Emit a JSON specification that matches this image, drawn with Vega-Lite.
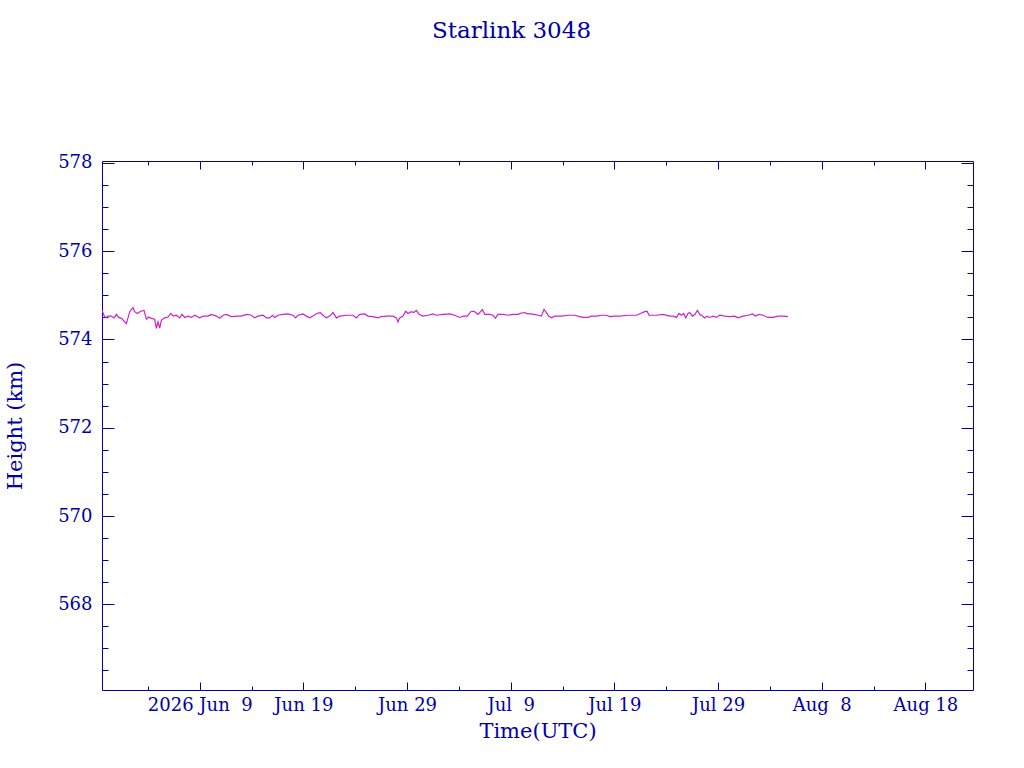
{
  "$schema": "https://vega.github.io/schema/vega-lite/v6.json",
  "width": 871,
  "height": 529,
  "autosize": {"type": "none"},
  "padding": {"left": 102, "top": 161, "right": 51, "bottom": 78},
  "background": "white",
  "title": {"text": "Starlink 3048", "dx": -26, "offset": 93, "baseline": "alphabetic"},
  "data": {
    "values": [
      {"t": "2026-05-30T13:50Z", "h": 574.66},
      {"t": "2026-05-30T18:27Z", "h": 574.55},
      {"t": "2026-05-30T22:23Z", "h": 574.49},
      {"t": "2026-05-31T03:43Z", "h": 574.53},
      {"t": "2026-05-31T11:35Z", "h": 574.53},
      {"t": "2026-05-31T17:36Z", "h": 574.49},
      {"t": "2026-05-31T23:10Z", "h": 574.57},
      {"t": "2026-06-01T04:29Z", "h": 574.50},
      {"t": "2026-06-01T10:44Z", "h": 574.48},
      {"t": "2026-06-01T22:18Z", "h": 574.36},
      {"t": "2026-06-02T05:57Z", "h": 574.63},
      {"t": "2026-06-02T13:35Z", "h": 574.72},
      {"t": "2026-06-02T17:31Z", "h": 574.63},
      {"t": "2026-06-02T23:46Z", "h": 574.59},
      {"t": "2026-06-03T07:25Z", "h": 574.64},
      {"t": "2026-06-03T15:03Z", "h": 574.66},
      {"t": "2026-06-03T20:37Z", "h": 574.46},
      {"t": "2026-06-04T01:56Z", "h": 574.51},
      {"t": "2026-06-04T08:11Z", "h": 574.48},
      {"t": "2026-06-04T15:49Z", "h": 574.46},
      {"t": "2026-06-04T19:45Z", "h": 574.25},
      {"t": "2026-06-04T23:28Z", "h": 574.40},
      {"t": "2026-06-05T03:24Z", "h": 574.26},
      {"t": "2026-06-05T07:21Z", "h": 574.44},
      {"t": "2026-06-05T14:58Z", "h": 574.49},
      {"t": "2026-06-05T22:36Z", "h": 574.51},
      {"t": "2026-06-06T04:52Z", "h": 574.59},
      {"t": "2026-06-06T11:07Z", "h": 574.53},
      {"t": "2026-06-06T18:03Z", "h": 574.55},
      {"t": "2026-06-07T01:42Z", "h": 574.49},
      {"t": "2026-06-07T07:02Z", "h": 574.57},
      {"t": "2026-06-07T13:16Z", "h": 574.50},
      {"t": "2026-06-07T20:54Z", "h": 574.53},
      {"t": "2026-06-08T04:47Z", "h": 574.50},
      {"t": "2026-06-08T12:26Z", "h": 574.55},
      {"t": "2026-06-09T00:00Z", "h": 574.49},
      {"t": "2026-06-09T07:38Z", "h": 574.53},
      {"t": "2026-06-09T19:13Z", "h": 574.53},
      {"t": "2026-06-10T03:05Z", "h": 574.57},
      {"t": "2026-06-10T14:40Z", "h": 574.53},
      {"t": "2026-06-10T22:18Z", "h": 574.48},
      {"t": "2026-06-11T05:57Z", "h": 574.55},
      {"t": "2026-06-11T13:49Z", "h": 574.57},
      {"t": "2026-06-12T01:24Z", "h": 574.52},
      {"t": "2026-06-12T12:58Z", "h": 574.53},
      {"t": "2026-06-13T00:32Z", "h": 574.53},
      {"t": "2026-06-13T12:07Z", "h": 574.57},
      {"t": "2026-06-13T23:41Z", "h": 574.55},
      {"t": "2026-06-14T07:19Z", "h": 574.49},
      {"t": "2026-06-14T14:58Z", "h": 574.53},
      {"t": "2026-06-15T02:33Z", "h": 574.55},
      {"t": "2026-06-15T10:25Z", "h": 574.49},
      {"t": "2026-06-15T18:03Z", "h": 574.49},
      {"t": "2026-06-16T00:19Z", "h": 574.55},
      {"t": "2026-06-16T05:38Z", "h": 574.50},
      {"t": "2026-06-16T13:16Z", "h": 574.55},
      {"t": "2026-06-17T00:50Z", "h": 574.57},
      {"t": "2026-06-17T12:25Z", "h": 574.58},
      {"t": "2026-06-18T00:00Z", "h": 574.55},
      {"t": "2026-06-18T06:14Z", "h": 574.49},
      {"t": "2026-06-18T11:34Z", "h": 574.55},
      {"t": "2026-06-18T23:08Z", "h": 574.58},
      {"t": "2026-06-19T07:00Z", "h": 574.53},
      {"t": "2026-06-19T14:39Z", "h": 574.49},
      {"t": "2026-06-19T22:18Z", "h": 574.53},
      {"t": "2026-06-20T06:10Z", "h": 574.59},
      {"t": "2026-06-20T15:26Z", "h": 574.61},
      {"t": "2026-06-20T21:27Z", "h": 574.55},
      {"t": "2026-06-21T05:20Z", "h": 574.49},
      {"t": "2026-06-21T12:58Z", "h": 574.53},
      {"t": "2026-06-21T20:36Z", "h": 574.61},
      {"t": "2026-06-22T04:28Z", "h": 574.49},
      {"t": "2026-06-22T12:07Z", "h": 574.53},
      {"t": "2026-06-23T03:37Z", "h": 574.55},
      {"t": "2026-06-23T18:54Z", "h": 574.55},
      {"t": "2026-06-24T02:46Z", "h": 574.49},
      {"t": "2026-06-24T10:25Z", "h": 574.57},
      {"t": "2026-06-24T21:59Z", "h": 574.58},
      {"t": "2026-06-25T05:37Z", "h": 574.53},
      {"t": "2026-06-25T17:12Z", "h": 574.52},
      {"t": "2026-06-26T04:47Z", "h": 574.49},
      {"t": "2026-06-26T12:39Z", "h": 574.52},
      {"t": "2026-06-27T00:13Z", "h": 574.53},
      {"t": "2026-06-27T15:30Z", "h": 574.53},
      {"t": "2026-06-27T23:22Z", "h": 574.49},
      {"t": "2026-06-28T03:04Z", "h": 574.40},
      {"t": "2026-06-28T07:00Z", "h": 574.49},
      {"t": "2026-06-28T14:38Z", "h": 574.53},
      {"t": "2026-06-28T20:54Z", "h": 574.64},
      {"t": "2026-06-29T02:13Z", "h": 574.59},
      {"t": "2026-06-29T10:06Z", "h": 574.63},
      {"t": "2026-06-29T15:25Z", "h": 574.61},
      {"t": "2026-06-29T21:40Z", "h": 574.66},
      {"t": "2026-06-30T03:41Z", "h": 574.57},
      {"t": "2026-06-30T12:57Z", "h": 574.53},
      {"t": "2026-07-01T00:32Z", "h": 574.55},
      {"t": "2026-07-01T12:06Z", "h": 574.58},
      {"t": "2026-07-01T19:58Z", "h": 574.55},
      {"t": "2026-07-02T11:15Z", "h": 574.57},
      {"t": "2026-07-03T02:46Z", "h": 574.58},
      {"t": "2026-07-03T14:20Z", "h": 574.55},
      {"t": "2026-07-04T01:55Z", "h": 574.50},
      {"t": "2026-07-04T09:33Z", "h": 574.53},
      {"t": "2026-07-04T19:44Z", "h": 574.53},
      {"t": "2026-07-05T03:23Z", "h": 574.63},
      {"t": "2026-07-05T11:01Z", "h": 574.64},
      {"t": "2026-07-05T20:17Z", "h": 574.57},
      {"t": "2026-07-06T06:27Z", "h": 574.68},
      {"t": "2026-07-06T11:47Z", "h": 574.57},
      {"t": "2026-07-06T23:21Z", "h": 574.57},
      {"t": "2026-07-07T07:00Z", "h": 574.55},
      {"t": "2026-07-07T12:33Z", "h": 574.48},
      {"t": "2026-07-07T18:34Z", "h": 574.57},
      {"t": "2026-07-08T06:09Z", "h": 574.57},
      {"t": "2026-07-08T17:44Z", "h": 574.55},
      {"t": "2026-07-09T05:18Z", "h": 574.57},
      {"t": "2026-07-09T16:52Z", "h": 574.57},
      {"t": "2026-07-10T00:45Z", "h": 574.60},
      {"t": "2026-07-10T08:23Z", "h": 574.61},
      {"t": "2026-07-10T14:38Z", "h": 574.58},
      {"t": "2026-07-10T22:16Z", "h": 574.58},
      {"t": "2026-07-11T07:32Z", "h": 574.57},
      {"t": "2026-07-11T15:10Z", "h": 574.55},
      {"t": "2026-07-11T23:02Z", "h": 574.53},
      {"t": "2026-07-12T05:04Z", "h": 574.68},
      {"t": "2026-07-12T10:38Z", "h": 574.61},
      {"t": "2026-07-12T15:57Z", "h": 574.53},
      {"t": "2026-07-12T22:12Z", "h": 574.49},
      {"t": "2026-07-13T05:50Z", "h": 574.53},
      {"t": "2026-07-13T21:21Z", "h": 574.53},
      {"t": "2026-07-14T12:38Z", "h": 574.55},
      {"t": "2026-07-15T04:08Z", "h": 574.55},
      {"t": "2026-07-15T15:43Z", "h": 574.52},
      {"t": "2026-07-15T23:21Z", "h": 574.50},
      {"t": "2026-07-16T10:55Z", "h": 574.50},
      {"t": "2026-07-16T18:47Z", "h": 574.53},
      {"t": "2026-07-17T06:23Z", "h": 574.53},
      {"t": "2026-07-17T17:57Z", "h": 574.55},
      {"t": "2026-07-18T05:31Z", "h": 574.55},
      {"t": "2026-07-18T13:10Z", "h": 574.52},
      {"t": "2026-07-19T00:45Z", "h": 574.53},
      {"t": "2026-07-19T12:19Z", "h": 574.53},
      {"t": "2026-07-20T07:32Z", "h": 574.55},
      {"t": "2026-07-21T02:59Z", "h": 574.55},
      {"t": "2026-07-21T12:14Z", "h": 574.59},
      {"t": "2026-07-21T22:12Z", "h": 574.63},
      {"t": "2026-07-22T03:32Z", "h": 574.64},
      {"t": "2026-07-22T08:10Z", "h": 574.55},
      {"t": "2026-07-23T01:16Z", "h": 574.55},
      {"t": "2026-07-23T16:34Z", "h": 574.57},
      {"t": "2026-07-24T08:04Z", "h": 574.53},
      {"t": "2026-07-24T15:43Z", "h": 574.53},
      {"t": "2026-07-24T23:35Z", "h": 574.50},
      {"t": "2026-07-25T05:36Z", "h": 574.59},
      {"t": "2026-07-25T11:09Z", "h": 574.55},
      {"t": "2026-07-25T16:29Z", "h": 574.59},
      {"t": "2026-07-25T21:07Z", "h": 574.49},
      {"t": "2026-07-26T02:27Z", "h": 574.59},
      {"t": "2026-07-26T06:23Z", "h": 574.61},
      {"t": "2026-07-26T12:37Z", "h": 574.53},
      {"t": "2026-07-26T18:39Z", "h": 574.57},
      {"t": "2026-07-27T00:12Z", "h": 574.66},
      {"t": "2026-07-27T05:31Z", "h": 574.57},
      {"t": "2026-07-27T11:47Z", "h": 574.53},
      {"t": "2026-07-27T17:05Z", "h": 574.49},
      {"t": "2026-07-27T22:25Z", "h": 574.53},
      {"t": "2026-07-28T04:41Z", "h": 574.50},
      {"t": "2026-07-28T12:19Z", "h": 574.53},
      {"t": "2026-07-28T20:11Z", "h": 574.50},
      {"t": "2026-07-29T03:49Z", "h": 574.55},
      {"t": "2026-07-29T15:24Z", "h": 574.53},
      {"t": "2026-07-30T02:58Z", "h": 574.52},
      {"t": "2026-07-30T14:33Z", "h": 574.53},
      {"t": "2026-07-30T22:11Z", "h": 574.49},
      {"t": "2026-07-31T09:46Z", "h": 574.53},
      {"t": "2026-07-31T21:20Z", "h": 574.55},
      {"t": "2026-08-01T07:31Z", "h": 574.58},
      {"t": "2026-08-01T15:10Z", "h": 574.53},
      {"t": "2026-08-01T22:48Z", "h": 574.57},
      {"t": "2026-08-02T08:04Z", "h": 574.55},
      {"t": "2026-08-02T19:38Z", "h": 574.50},
      {"t": "2026-08-03T07:12Z", "h": 574.50},
      {"t": "2026-08-03T18:47Z", "h": 574.53},
      {"t": "2026-08-04T06:22Z", "h": 574.53},
      {"t": "2026-08-04T17:56Z", "h": 574.52}
    ]
  },
  "encoding": {
    "x": {
      "field": "t",
      "type": "temporal",
      "scale": {
        "type": "utc",
        "domain": [
          {"year": 2026, "month": 5, "date": 30, "hours": 13, "minutes": 50, "utc": true},
          {"year": 2026, "month": 8, "date": 22, "hours": 14, "minutes": 10, "utc": true}
        ]
      }
    },
    "y": {
      "field": "h",
      "type": "quantitative",
      "scale": {"domain": [566.057, 578.045], "nice": false, "zero": false}
    }
  },
  "layer": [
    {
      "mark": {"type": "line", "color": "#cc22cc", "strokeWidth": 1.2, "clip": true},
      "encoding": {
        "x": {
          "field": "t",
          "type": "temporal",
          "axis": {
            "orient": "bottom",
            "values": [
              {"year": 2026, "month": 6, "date": 9, "utc": true},
              {"year": 2026, "month": 6, "date": 19, "utc": true},
              {"year": 2026, "month": 6, "date": 29, "utc": true},
              {"year": 2026, "month": 7, "date": 9, "utc": true},
              {"year": 2026, "month": 7, "date": 19, "utc": true},
              {"year": 2026, "month": 7, "date": 29, "utc": true},
              {"year": 2026, "month": 8, "date": 8, "utc": true},
              {"year": 2026, "month": 8, "date": 18, "utc": true}
            ],
            "ticks": false,
            "tickSize": 0,
            "labelPadding": 6,
            "labelOverlap": false,
            "labelFlush": false,
            "labelExpr": "(utcmonth(datum.value) == 5 && utcdate(datum.value) == 9 ? '2026 ' : '') + replace(utcFormat(datum.value, '%b %e'), ' ', '\u00a0')",
            "title": "Time(UTC)",
            "titleX": 435.5,
            "titleY": 47,
            "titleAlign": "center",
            "titleBaseline": "alphabetic"
          }
        },
        "y": {
          "field": "h",
          "type": "quantitative",
          "axis": {
            "orient": "left",
            "values": [568, 570, 572, 574, 576, 578],
            "format": "d",
            "ticks": false,
            "tickSize": 0,
            "labelPadding": 10,
            "labelOverlap": false,
            "labelFlush": false,
            "title": "Height (km)",
            "titleX": -87,
            "titleY": 264.5,
            "titleAngle": -90,
            "titleAlign": "center",
            "titleBaseline": "middle"
          }
        }
      }
    },
    {
      "mark": {"type": "point", "opacity": 0},
      "encoding": {
        "x": {
          "field": "t",
          "type": "temporal",
          "axis": {
            "orient": "bottom",
            "values": [
              {"year": 2026, "month": 6, "date": 9, "utc": true},
              {"year": 2026, "month": 6, "date": 19, "utc": true},
              {"year": 2026, "month": 6, "date": 29, "utc": true},
              {"year": 2026, "month": 7, "date": 9, "utc": true},
              {"year": 2026, "month": 7, "date": 19, "utc": true},
              {"year": 2026, "month": 7, "date": 29, "utc": true},
              {"year": 2026, "month": 8, "date": 8, "utc": true},
              {"year": 2026, "month": 8, "date": 18, "utc": true}
            ],
            "labels": false,
            "domain": false,
            "tickSize": -8,
            "title": null
          }
        },
        "y": {
          "field": "h",
          "type": "quantitative",
          "axis": {
            "orient": "left",
            "values": [568, 570, 572, 574, 576, 578],
            "labels": false,
            "domain": false,
            "tickSize": -12,
            "title": null
          }
        }
      }
    },
    {
      "mark": {"type": "point", "opacity": 0},
      "encoding": {
        "x": {
          "field": "t",
          "type": "temporal",
          "axis": {
            "orient": "bottom",
            "values": [
              {"year": 2026, "month": 6, "date": 4, "utc": true},
              {"year": 2026, "month": 6, "date": 14, "utc": true},
              {"year": 2026, "month": 6, "date": 24, "utc": true},
              {"year": 2026, "month": 7, "date": 4, "utc": true},
              {"year": 2026, "month": 7, "date": 14, "utc": true},
              {"year": 2026, "month": 7, "date": 24, "utc": true},
              {"year": 2026, "month": 8, "date": 3, "utc": true},
              {"year": 2026, "month": 8, "date": 13, "utc": true}
            ],
            "labels": false,
            "domain": false,
            "tickSize": -4,
            "title": null
          }
        },
        "y": {
          "field": "h",
          "type": "quantitative",
          "axis": {
            "orient": "left",
            "values": [566.5, 567, 567.5, 568.5, 569, 569.5, 570.5, 571, 571.5, 572.5, 573, 573.5, 574.5, 575, 575.5, 576.5, 577, 577.5],
            "labels": false,
            "domain": false,
            "tickSize": -6,
            "title": null
          }
        }
      }
    },
    {
      "mark": {"type": "point", "opacity": 0},
      "encoding": {
        "x": {
          "field": "t",
          "type": "temporal",
          "axis": {
            "orient": "top",
            "values": [
              {"year": 2026, "month": 6, "date": 9, "utc": true},
              {"year": 2026, "month": 6, "date": 19, "utc": true},
              {"year": 2026, "month": 6, "date": 29, "utc": true},
              {"year": 2026, "month": 7, "date": 9, "utc": true},
              {"year": 2026, "month": 7, "date": 19, "utc": true},
              {"year": 2026, "month": 7, "date": 29, "utc": true},
              {"year": 2026, "month": 8, "date": 8, "utc": true},
              {"year": 2026, "month": 8, "date": 18, "utc": true}
            ],
            "labels": false,
            "tickSize": -8,
            "title": null
          }
        },
        "y": {
          "field": "h",
          "type": "quantitative",
          "axis": {
            "orient": "right",
            "values": [568, 570, 572, 574, 576, 578],
            "labels": false,
            "tickSize": -12,
            "title": null
          }
        }
      }
    },
    {
      "mark": {"type": "point", "opacity": 0},
      "encoding": {
        "x": {
          "field": "t",
          "type": "temporal",
          "axis": {
            "orient": "top",
            "values": [
              {"year": 2026, "month": 6, "date": 4, "utc": true},
              {"year": 2026, "month": 6, "date": 14, "utc": true},
              {"year": 2026, "month": 6, "date": 24, "utc": true},
              {"year": 2026, "month": 7, "date": 4, "utc": true},
              {"year": 2026, "month": 7, "date": 14, "utc": true},
              {"year": 2026, "month": 7, "date": 24, "utc": true},
              {"year": 2026, "month": 8, "date": 3, "utc": true},
              {"year": 2026, "month": 8, "date": 13, "utc": true}
            ],
            "labels": false,
            "domain": false,
            "tickSize": -4,
            "title": null
          }
        },
        "y": {
          "field": "h",
          "type": "quantitative",
          "axis": {
            "orient": "right",
            "values": [566.5, 567, 567.5, 568.5, 569, 569.5, 570.5, 571, 571.5, 572.5, 573, 573.5, 574.5, 575, 575.5, 576.5, 577, 577.5],
            "labels": false,
            "domain": false,
            "tickSize": -6,
            "title": null
          }
        }
      }
    }
  ],
  "resolve": {"axis": {"x": "independent", "y": "independent"}},
  "config": {
    "view": {"stroke": null},
    "axis": {
      "grid": false,
      "domainColor": "#0000a8",
      "tickColor": "#0000a8",
      "labelColor": "#0000a8",
      "titleColor": "#0000a8",
      "domainWidth": 1,
      "tickWidth": 1,
      "labelFont": "DejaVu Serif",
      "labelFontSize": 18,
      "titleFont": "DejaVu Serif",
      "titleFontSize": 21,
      "titleFontWeight": "normal"
    },
    "title": {
      "font": "DejaVu Serif",
      "fontSize": 23,
      "fontWeight": "normal",
      "color": "#0000a8"
    }
  }
}
